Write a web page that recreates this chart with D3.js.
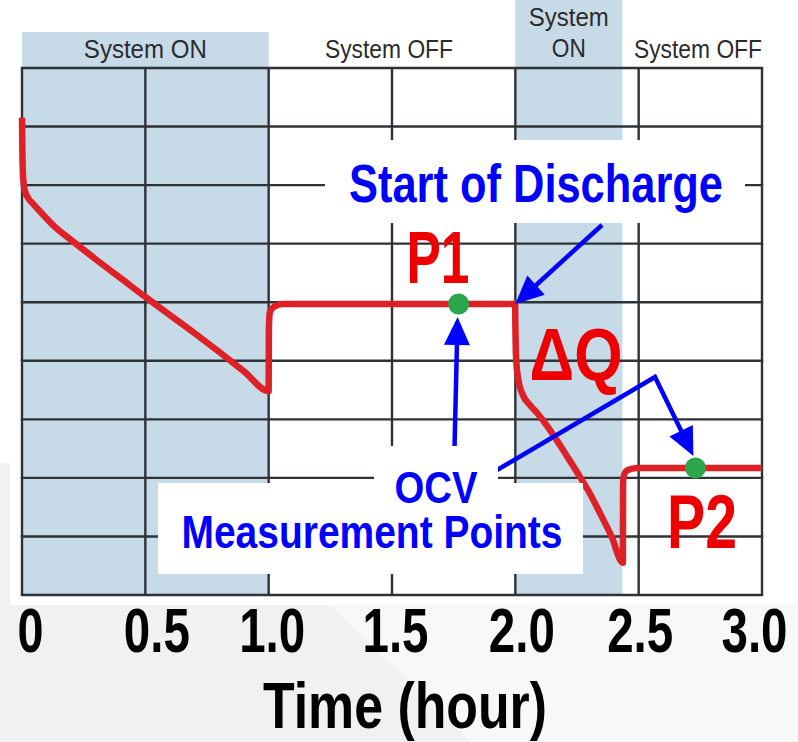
<!DOCTYPE html>
<html><head><meta charset="utf-8">
<script src="https://cdn.jsdelivr.net/npm/d3@7"></script>
<style>
html,body{margin:0;padding:0;background:#fff;}
svg{display:block;}
</style></head>
<body>
<svg id="chart" width="798" height="742"></svg>
<script>
// ---- data ----
const tickValues = [0, 0.5, 1.0, 1.5, 2.0, 2.5, 3.0];
const tickLabels = ["0", "0.5", "1.0", "1.5", "2.0", "2.5", "3.0"];
const phaseStart = [0, 1.0, 2.0, 2.434];
const phaseEnd   = [1.0, 2.0, 2.434, 3.0];
const phaseState = ["ON", "OFF", "ON", "OFF"];
const phaseLabel = [["System ON"], ["System OFF"], ["System", "ON"], ["System OFF"]];
const curveTime = [0, 0.002, 0.005, 0.012, 0.025, 0.045, 0.08, 0.13, 0.2, 0.3, 0.4, 0.5, 0.6, 0.7, 0.8, 0.9, 1.0,
  1.0008, 1.005, 1.02, 1.058, 1.2, 1.5, 1.77, 1.999,
  2.0005, 2.003, 2.012, 2.03, 2.06, 2.09, 2.13, 2.17, 2.22, 2.26, 2.3, 2.343, 2.39, 2.436,
  2.4368, 2.441, 2.454, 2.493, 2.6, 2.73, 3.0];
const curveValue = [8.15, 7.45, 7.1, 6.9, 6.78, 6.68, 6.52, 6.3, 6.06, 5.73, 5.41, 5.09, 4.78, 4.47, 4.15, 3.82, 3.48,
  4.55, 4.83, 4.92, 4.97, 4.97, 4.97, 4.97, 4.97,
  4.5, 4.05, 3.68, 3.42, 3.24, 3.1, 2.88, 2.63, 2.3, 2.03, 1.75, 1.4, 1.0, 0.55,
  1.9, 2.06, 2.13, 2.17, 2.17, 2.17, 2.17];
const pointName  = ["P1", "P2"];
const pointTime  = [1.77, 2.73];
const pointValue = [4.97, 2.17];
const yTicks = [0, 1, 2, 3, 4, 5, 6, 7, 8, 9];

// ---- layout ----
const svg = d3.select("#chart");
const x = d3.scaleLinear().domain([0, 3]).range([22, 762]);
const y = d3.scaleLinear().domain([0, 9]).range([595, 68]);
const NARROW = "'Liberation Sans Narrow','Arial Narrow','Liberation Sans',Arial,sans-serif";

// background
svg.append("rect").attr("width", 798).attr("height", 742).attr("fill", "#f1f1f1");
svg.append("polygon").attr("points", "330,605 798,605 798,742 470,742").attr("fill", "#f8f8f8");
svg.append("polygon").attr("points", "0,0 798,0 798,605 10,605 10,463 0,463").attr("fill", "#ffffff");

// shaded ON phases
const phases = phaseStart.map((s, i) => ({s, e: phaseEnd[i], state: phaseState[i], label: phaseLabel[i]}));
svg.selectAll("rect.phase").data(phases.filter(p => p.state === "ON")).enter()
  .append("rect").attr("class", "phase")
  .attr("x", d => x(d.s)).attr("width", d => x(d.e) - x(d.s))
  .attr("y", (d, i) => i === 0 ? 32 : 0)
  .attr("height", (d, i) => y(0) - (i === 0 ? 32 : 0))
  .attr("fill", "#c7dae8");

// phase labels
const hdrWidths = {"System ON": 123, "System OFF": 128, "System": 80, "ON": 34};
phases.forEach(p => {
  const cx = (x(p.s) + x(p.e)) / 2;
  const lines = p.label;
  lines.forEach((t, j) => {
    const baseY = lines.length === 1 ? 58 : (j === 0 ? 26 : 57);
    svg.append("text").attr("x", p.s === 1.0 ? 389 : (p.s > 2.4 ? 698 : cx)).attr("y", baseY)
      .attr("text-anchor", "middle")
      .attr("font-family", "'Liberation Sans',Arial,sans-serif").attr("font-size", 26)
      .attr("fill", "#2b2b2b")
      .attr("textLength", hdrWidths[t]).attr("lengthAdjust", "spacingAndGlyphs")
      .text(t);
  });
});

// grid
const grid = svg.append("g").attr("stroke", "#2e3236").attr("stroke-width", 2.4);
grid.selectAll("line.v").data(tickValues).enter().append("line")
  .attr("x1", d => x(d)).attr("x2", d => x(d)).attr("y1", y(9)).attr("y2", y(0));
grid.selectAll("line.h").data(yTicks).enter().append("line")
  .attr("x1", x(0) - 1.2).attr("x2", x(3) + 1.2).attr("y1", d => y(d)).attr("y2", d => y(d));

// axis
const axis = d3.axisBottom(x).tickValues(tickValues).tickSize(0).tickPadding(0)
  .tickFormat((d, i) => tickLabels[i]);
const ag = svg.append("g").attr("transform", "translate(0,652)").call(axis);
ag.select(".domain").remove();
ag.selectAll("text").attr("y", 0).attr("dy", 0)
  .attr("dx", (d, i) => [8, 11, 3, 3, 6, 1, -8][i])
  .attr("font-family", NARROW).attr("font-weight", "bold").attr("font-size", 63).attr("fill", "#000")
  .attr("textLength", (d, i) => {
    const s = tickLabels[i];
    return s.replace(/[^0-9]/g, "").length * 26 + (s.includes(".") ? 14 : 0);
  })
  .attr("lengthAdjust", "spacingAndGlyphs");

svg.append("text").attr("x", 405).attr("y", 728).attr("text-anchor", "middle")
  .attr("font-family", NARROW).attr("font-weight", "bold").attr("font-size", 64)
  .attr("textLength", 284).attr("lengthAdjust", "spacingAndGlyphs")
  .text("Time (hour)");

// curve
const pts = curveTime.map((t, i) => [t, curveValue[i]]);
const line = d3.line().x(d => x(d[0])).y(d => y(d[1])).curve(d3.curveMonotoneX);
svg.append("path").attr("d", line(pts)).attr("fill", "none")
  .attr("stroke", "#dd2127").attr("stroke-width", 6.5).attr("stroke-linejoin", "round").attr("stroke-linecap", "butt");

// points
svg.selectAll("circle.pt").data(pointTime).enter().append("circle")
  .attr("cx", d => x(d)).attr("cy", (d, i) => y(pointValue[i])).attr("r", 10.5).attr("fill", "#2aa64b");

// arrow helper
const BLUE = "#0000ff";
function arrow(points, headLen, headW) {
  const n = points.length;
  const [tx, ty] = points[n - 1], [px, py] = points[n - 2];
  const ang = Math.atan2(ty - py, tx - px);
  const bx = tx - headLen * Math.cos(ang), by = ty - headLen * Math.sin(ang);
  const body = points.slice(0, n - 1).concat([[bx + 2 * Math.cos(ang), by + 2 * Math.sin(ang)]]);
  svg.append("path").attr("d", d3.line()(body)).attr("fill", "none")
    .attr("stroke", BLUE).attr("stroke-width", 4.5).attr("stroke-linejoin", "miter");
  const nx = -Math.sin(ang), ny = Math.cos(ang);
  svg.append("polygon").attr("fill", BLUE).attr("points",
    [[tx, ty], [bx + nx * headW / 2, by + ny * headW / 2], [bx - nx * headW / 2, by - ny * headW / 2]].map(p => p.join(",")).join(" "));
}

// annotation: ΔQ arrow to P2 (behind OCV box)
arrow([[470, 486], [655, 377], [x(pointTime[1]) - 2, y(pointValue[1]) - 12]], 28, 26);
// annotation: OCV to P1
arrow([[454, 470], [x(pointTime[0]) - 1, y(pointValue[0]) + 13]], 28, 26);

// OCV box
svg.append("rect").attr("x", 158).attr("y", 483).attr("width", 425).attr("height", 91).attr("fill", "#fff");
svg.append("rect").attr("x", 374).attr("y", 446).attr("width", 124).attr("height", 40).attr("fill", "#fff");
svg.append("text").attr("x", 436).attr("y", 503).attr("text-anchor", "middle")
  .attr("font-family", NARROW).attr("font-weight", "bold").attr("font-size", 44).attr("fill", BLUE)
  .attr("textLength", 83).attr("lengthAdjust", "spacingAndGlyphs").text("OCV");
svg.append("text").attr("x", 372).attr("y", 548).attr("text-anchor", "middle")
  .attr("font-family", NARROW).attr("font-weight", "bold").attr("font-size", 46).attr("fill", BLUE)
  .attr("textLength", 381).attr("lengthAdjust", "spacingAndGlyphs").text("Measurement Points");

// Start of Discharge box + arrow
svg.append("rect").attr("x", 325).attr("y", 140).attr("width", 420).attr("height", 83).attr("fill", "#fff");
svg.append("text").attr("x", 536).attr("y", 202).attr("text-anchor", "middle")
  .attr("font-family", NARROW).attr("font-weight", "bold").attr("font-size", 53).attr("fill", BLUE)
  .attr("textLength", 374).attr("lengthAdjust", "spacingAndGlyphs").text("Start of Discharge");
arrow([[602, 225], [x(2.0), y(4.97)]], 28, 26);

// red labels
const RED = "#ee0000";
svg.append("text").attr("x", 438).attr("y", 283).attr("text-anchor", "middle")
  .attr("font-family", NARROW).attr("font-weight", "bold").attr("font-size", 74).attr("fill", RED)
  .attr("textLength", 63).attr("lengthAdjust", "spacingAndGlyphs").text(pointName[0]);
svg.append("text").attr("x", 702).attr("y", 548).attr("text-anchor", "middle")
  .attr("font-family", NARROW).attr("font-weight", "bold").attr("font-size", 76).attr("fill", RED)
  .attr("textLength", 70).attr("lengthAdjust", "spacingAndGlyphs").text(pointName[1]);
svg.append("text").attr("x", 576).attr("y", 380).attr("text-anchor", "middle")
  .attr("font-family", NARROW).attr("font-weight", "bold").attr("font-size", 74).attr("fill", RED)
  .attr("textLength", 93).attr("lengthAdjust", "spacingAndGlyphs").text("ΔQ");
</script>
</body></html>
